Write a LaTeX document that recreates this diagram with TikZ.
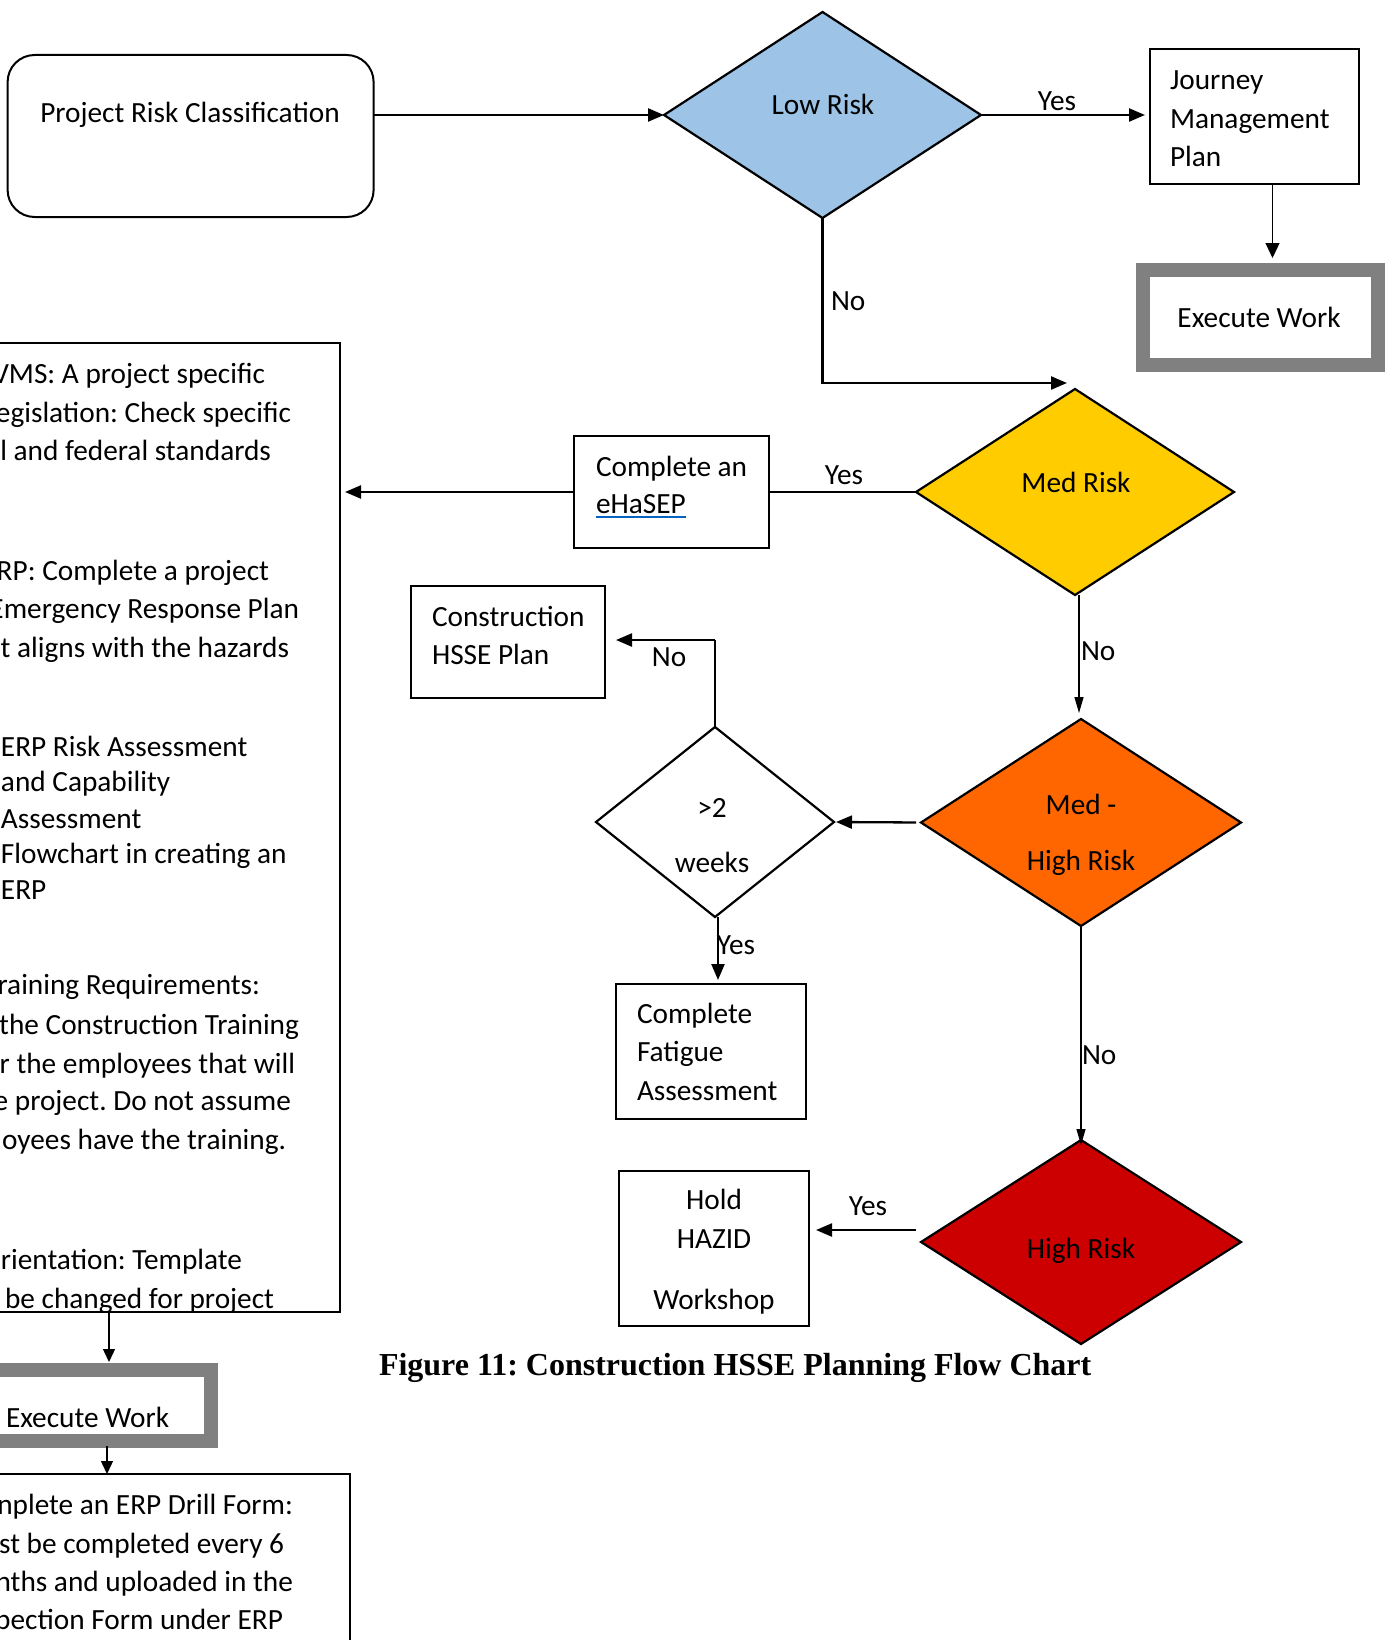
\documentclass[tikz,border=0pt]{standalone}
\usepackage{fontspec}
\setmainfont{Carlito}
\newfontfamily\capfont{Liberation Serif}
\usetikzlibrary{shapes.geometric,arrows.meta,calc}
\definecolor{lowblue}{HTML}{9DC3E6}
\definecolor{medgold}{HTML}{FFCC00}
\definecolor{mhorange}{HTML}{FF6600}
\definecolor{highred}{HTML}{CC0000}
\definecolor{framegray}{HTML}{808080}
\definecolor{linkblue}{HTML}{0563C1}

\begin{document}
\frenchspacing
\begin{tikzpicture}[x=1pt,y=-1pt,
  every node/.style={font=\fontsize{29.3pt}{38.5pt}\selectfont, inner sep=0pt, outer sep=0pt},
  box/.style={draw=black, line width=2pt, fill=white, anchor=north west},
  frame/.style={draw=framegray, line width=14pt, fill=white, anchor=north west},
  decision/.style={diamond, draw=black, line width=2.2pt},
  conn/.style={line width=2.3pt, -{Triangle[length=16pt,width=13pt]}},
  plainconn/.style={line width=2.3pt},
  thinconn/.style={line width=1.3pt, -{Triangle[length=16pt,width=9pt]}},
  smallconn/.style={line width=1.3pt, -{Triangle[length=13pt,width=12pt]}},
  thinline/.style={line width=1.3pt},
  lt/.style={anchor=base west},
  ct/.style={anchor=base},
  rt/.style={anchor=base east},
]
\useasboundingbox (0,0) rectangle (1395,1640);
\clip (0,0) rectangle (1395,1640);

% ---------- shapes ----------
\node[box, rounded corners=27pt, minimum width=366pt, minimum height=162pt] (prc) at (7.6,55) {};
\node[decision, fill=lowblue, minimum width=317pt, minimum height=206pt] (low) at (822.5,115) {};
\node[box, minimum width=209pt, minimum height=135pt] (journey) at (1150,49) {};
\node[frame, minimum width=235pt, minimum height=95pt] (execA) at (1143,270) {};
\node[decision, fill=medgold, minimum width=318pt, minimum height=206pt] (med) at (1075,492) {};
\node[box, minimum width=195pt, minimum height=112pt] (ehasep) at (574,436) {};
\node[box, minimum width=350pt, minimum height=969pt] (big) at (-10,343) {};
\node[box, minimum width=194pt, minimum height=112pt] (constr) at (411,586) {};
\node[decision, fill=white, minimum width=238pt, minimum height=190pt] (weeks) at (715,822) {};
\node[decision, fill=mhorange, minimum width=320pt, minimum height=207pt] (medhigh) at (1081,822.5) {};
\node[box, minimum width=190pt, minimum height=135pt] (fatigue) at (616,984) {};
\node[decision, fill=highred, minimum width=320pt, minimum height=204pt] (high) at (1081,1242) {};
\node[box, minimum width=190pt, minimum height=155pt] (hazid) at (619,1171) {};
\node[frame, minimum width=241pt, minimum height=71pt] (execB) at (-30,1370) {};
\node[box, minimum width=360pt, minimum height=226pt] (drill) at (-10,1474) {};

% ---------- connectors ----------
\draw[conn] (prc.east |- low.west) -- (low.west);
\draw[conn, shorten >=5pt] (low.east) -- (low.east -| journey.west);
\coordinate (jdrop) at ($(journey.south)+(18,0)$);
\draw[thinconn, line width=1.2pt, -{Triangle[length=15pt,width=14pt]}, shorten >=12pt] (jdrop) -- (jdrop |- execA.north);
\coordinate (medin) at ($(med.north)+(-8,-6)$);
\draw[conn] (low.south) |- (medin);
\draw[plainconn] (med.west) -- (ehasep.east);
\draw[conn, shorten >=5pt] (ehasep.west) -- (ehasep.west -| big.east);
\coordinate (mdrop) at ($(med.south)+(4,0)$);
\draw[thinconn, shorten >=6pt] (mdrop) -- (mdrop |- medhigh.north);
\draw[conn, shorten <=5pt, shorten >=2pt] (medhigh.west) -- (weeks.east);
\coordinate (bend) at ($(weeks.north)+(0,-87)$);
\draw[thinline] (weeks.north) -- (bend);
\draw[conn, shorten >=11pt] (bend) -- (bend -| constr.east);
\coordinate (wdrop) at ($(weeks.south)+(3,0)$);
\draw[conn, shorten >=4pt] (wdrop) -- (wdrop |- fatigue.north);
\draw[thinconn, shorten >=-5pt] (medhigh.south) -- (high.north);
\coordinate (hy) at ($(high.west)+(-5,-12)$);
\draw[conn, shorten >=7pt] (hy) -- (hy -| hazid.east);
\coordinate (bdrop) at ($(big.south west)+(119,0)$);
\draw[smallconn, shorten >=8pt] (bdrop) -- (bdrop |- execB.north);
\coordinate (edrop) at ($(execB.south)+(16.5,0)$);
\draw[smallconn, shorten <=5pt] (edrop) -- (edrop |- drill.north);

% ---------- texts ----------
\node[ct] (t-prc) at (190,123) {Project Risk Classification};
\node[ct] (t-low) at (823,115) {Low Risk};
\node[ct] (l-yes1) at (1057,111) {Yes};
\node[lt] (l-no1) at (831,310) {No};
\node[lt] (t-j1) at (1170,90) {Journey};
\node[lt] (t-j2) at (1170,129) {Management};
\node[lt] (t-j3) at (1170,167) {Plan};
\node[ct] (t-execA) at (1259,327) {Execute Work};
\node[ct] (t-med) at (1076,492) {Med Risk};
\node[ct] (l-yes2) at (844,484) {Yes};
\node[lt] (t-eh1) at (596,476) {Complete an};
\node[lt] (t-eh2) at (596,513) {eHaSEP};
\draw[linkblue, line width=2pt] ($(t-eh2.base west)+(0,4)$) -- ($(t-eh2.base east)+(0,4)$);
\node[lt] (t-c1) at (432,626) {Construction};
\node[lt] (t-c2) at (432,664) {HSSE Plan};
\node[ct] (l-no2) at (669,666) {No};
\node[lt] (l-no3) at (1081,660) {No};
\node[ct] (t-w1) at (712,817) {>2};
\node[ct] (t-w2) at (712,872) {weeks};
\node[ct] (t-mh1) at (1081,814) {Med -};
\node[ct] (t-mh2) at (1081,870) {High Risk};
\node[ct] (l-yes3) at (736,954) {Yes};
\node[lt] (t-f1) at (637,1023) {Complete};
\node[lt] (t-f2) at (637,1061) {Fatigue};
\node[lt] (t-f3) at (637,1100) {Assessment};
\node[lt] (l-no4) at (1082,1064) {No};
\node[ct] (t-high) at (1081,1258) {High Risk};
\node[ct] (l-yes4) at (868,1215) {Yes};
\node[ct] (t-h1) at (714,1209) {Hold};
\node[ct] (t-h2) at (714,1248) {HAZID};
\node[ct] (t-h3) at (714,1309) {Workshop};

% text of the tall box on the left
\node[rt] (b1) at (265,383) {VMS: A project specific};
\node[rt] (b2) at (291,422) {egislation: Check specific};
\node[rt] (b3) at (271,460) {l and federal standards};
\node[rt] (b4) at (269,580) {RP: Complete a project};
\node[rt] (b5) at (299,618) {Emergency Response Plan};
\node[rt] (b6) at (289,657) {t aligns with the hazards};
\node[lt] (b7) at (1,756) {ERP Risk Assessment};
\node[lt] (b8) at (1,791) {and Capability};
\node[lt] (b9) at (1,828) {Assessment};
\node[lt] (b10) at (1,863) {Flowchart in creating an};
\node[lt] (b11) at (1,899) {ERP};
\node[rt] (b12) at (260,994) {raining Requirements:};
\node[rt] (b13) at (299,1034) {the Construction Training};
\node[rt] (b14) at (295,1073) {r the employees that will};
\node[rt] (b15) at (291,1110) {e project. Do not assume};
\node[rt] (b16) at (286,1149) {oyees have the training.};
\node[rt] (b17) at (242,1269) {rientation: Template};
\node[rt] (b18) at (274,1308) {be changed for project};

\node[lt] (t-execB) at (6,1427) {Execute Work};

% text of the bottom box
\node[rt] (d1) at (293,1514) {nplete an ERP Drill Form:};
\node[rt] (d2) at (284,1553) {st be completed every 6};
\node[rt] (d3) at (293,1591) {nths and uploaded in the};
\node[rt] (d4) at (283,1629) {pection Form under ERP};

\node[lt, font=\capfont\fontsize{32pt}{38pt}\bfseries\selectfont] (caption) at (379,1375) {Figure 11: Construction HSSE Planning Flow Chart};
\end{tikzpicture}
\end{document}
